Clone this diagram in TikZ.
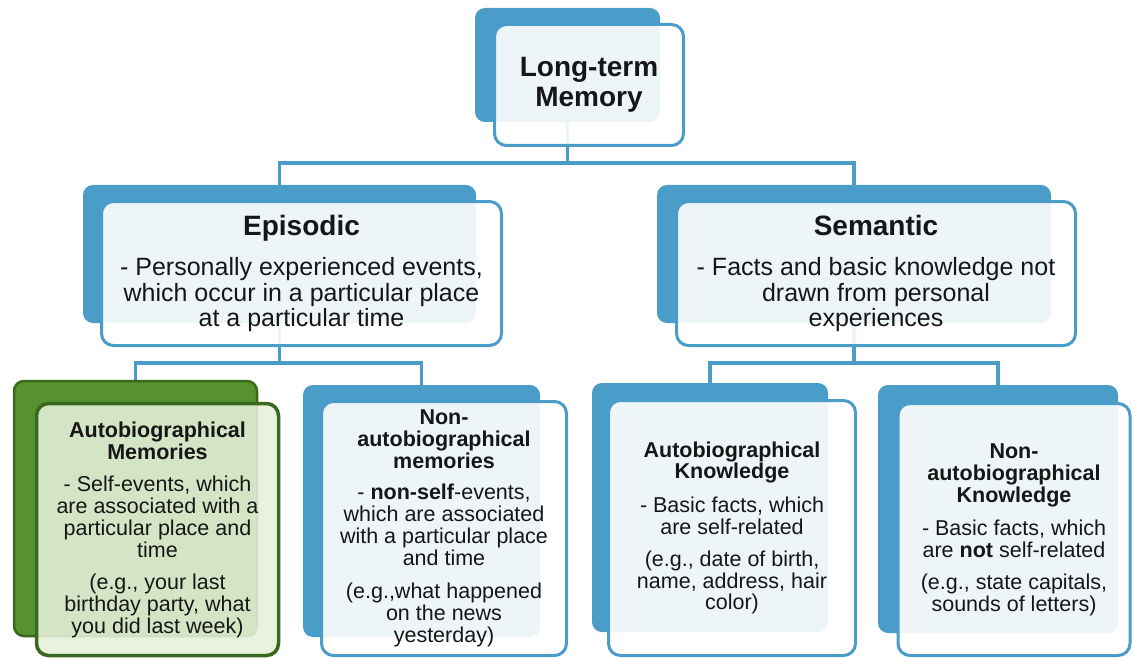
\documentclass[tikz,border=0pt]{standalone}
\usepackage{fontspec}
\setmainfont{Liberation Sans}
\usetikzlibrary{backgrounds}
\definecolor{cardblue}{RGB}{74,156,201}
\definecolor{cardgreen}{RGB}{86,146,46}
\definecolor{cardgreenline}{RGB}{58,104,28}
\definecolor{leafgreen}{RGB}{229,240,218}
\definecolor{inktext}{RGB}{22,22,22}

\begin{document}
\begin{tikzpicture}[x=1pt,y=-1pt,
    back/.style={fill=cardblue,rounded corners=10pt,inner sep=0pt},
    greenback/.style={back,fill=cardgreen,draw=cardgreenline,line width=2.5pt},
    card/.style={draw=cardblue,line width=3pt,rounded corners=12pt,fill=white,
        fill opacity=0.9,text opacity=1,text=inktext,align=center,inner sep=0pt},
    greencard/.style={card,draw=cardgreenline,fill=leafgreen,fill opacity=0.885,line width=3.5pt},
    wire/.style={draw=cardblue,line width=3.2pt}]
    \useasboundingbox (0,0) rectangle (1133,658);
    % back plates
    \node[back,minimum width=185pt,minimum height=114pt] (ltmb) at (567.5,65) {};
    \node[back,minimum width=393pt,minimum height=138pt] (epib) at (279.5,254) {};
    \node[back,minimum width=394pt,minimum height=138pt] (semb) at (854,254) {};
    \node[greenback,minimum width=243pt,minimum height=255pt] (abmb) at (135.5,508.5) {};
    \node[back,minimum width=237pt,minimum height=252pt] (namb) at (421.5,511) {};
    \node[back,minimum width=236pt,minimum height=249pt] (abkb) at (710,507.5) {};
    \node[back,minimum width=240pt,minimum height=248pt] (nakb) at (998,509) {};
    % front cards
    \node[card,minimum width=189pt,minimum height=121pt,font=\fontsize{28}{30}\selectfont\bfseries]
        (ltm) at (589,85) {Long-term\\Memory};
    \node[card,minimum width=400pt,minimum height=144pt,font=\fontsize{25}{25.5}\selectfont]
        (epi) at (301.5,273.5) {{\fontsize{28}{30}\selectfont\bfseries Episodic}\\[14.5pt]
        - Personally experienced events,\\which occur in a particular place\\at a particular time};
    \node[card,minimum width=399pt,minimum height=144pt,font=\fontsize{25}{25.5}\selectfont]
        (sem) at (876,273.5) {{\fontsize{28}{30}\selectfont\bfseries Semantic}\\[14.5pt]
        - Facts and basic knowledge not\\drawn from personal\\experiences};
    \node[greencard,minimum width=242pt,minimum height=252pt,font=\fontsize{21.5}{22}\selectfont]
        (abm) at (157.5,529.5) {\textbf{Autobiographical}\\\textbf{Memories}\\[10pt]
        - Self-events, which\\are associated with a\\particular place and\\time\\[10pt]
        (e.g., your last\\birthday party, what\\you did last week)};
    \node[card,minimum width=245pt,minimum height=254pt,font=\fontsize{21.5}{22}\selectfont]
        (nam) at (444,528.5) {\textbf{Non-}\\\textbf{autobiographical}\\\textbf{memories}\\[9pt]
        - \textbf{non-self}-events,\\which are associated\\with a particular place\\and time\\[11pt]
        (e.g.,what happened\\on the news\\yesterday)};
    \node[card,minimum width=247pt,minimum height=255pt,font=\fontsize{21.5}{21.8}\selectfont]
        (abk) at (732,528) {\textbf{Autobiographical}\\\textbf{Knowledge}\\[12pt]
        - Basic facts, which\\are self-related\\[10pt]
        (e.g., date of birth,\\name, address, hair\\color)};
    \node[card,minimum width=232pt,minimum height=252pt,font=\fontsize{21.5}{22}\selectfont]
        (nak) at (1014,529.5) {\textbf{Non-}\\\textbf{autobiographical}\\\textbf{Knowledge}\\[11pt]
        - Basic facts, which\\are \textbf{not} self-related\\[10pt]
        (e.g., state capitals,\\sounds of letters)};
    % connectors
    \coordinate (bus1) at (0,163);
    \coordinate (bus2) at (0,363);
    \begin{scope}[on background layer]
        \draw[wire] (ltmb.south) -- (bus1 -| ltmb.south);
        \draw[wire] (epib.north) |- (bus1 -| ltmb.south) -| (semb.north);
        \draw[wire] (epib.south) -- (bus2 -| epib.south);
        \draw[wire] (abmb.north) |- (bus2 -| epib.south) -| (namb.north);
        \draw[wire] (semb.south) -- (bus2 -| semb.south);
        \draw[wire] (abkb.north) |- (bus2 -| semb.south) -| (nakb.north);
    \end{scope}
\end{tikzpicture}
\end{document}
